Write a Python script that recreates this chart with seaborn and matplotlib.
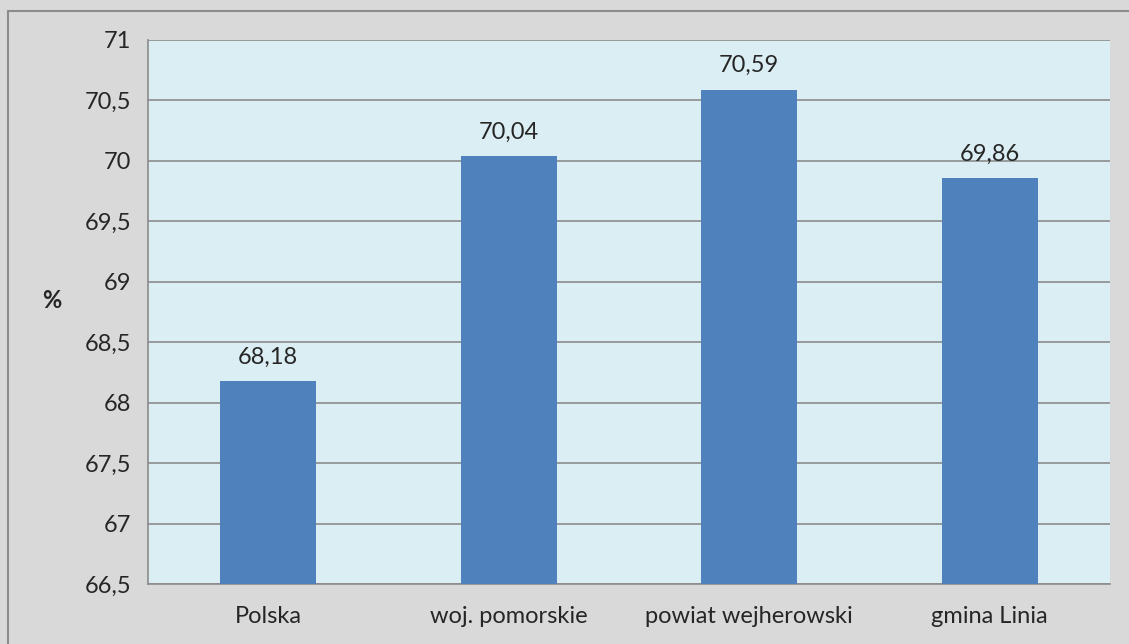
import numpy as np
import pandas as pd
import seaborn as sns
import matplotlib.pyplot as plt
from matplotlib.lines import Line2D

categories = ["Polska", "woj. pomorskie", "powiat wejherowski", "gmina Linia"]
values = [68.18, 70.04, 70.59, 69.86]
y_ticks = [66.5, 67, 67.5, 68, 68.5, 69, 69.5, 70, 70.5, 71]

sns.set_style("white")
plt.rcParams['font.family'] = ['Lato', 'DejaVu Sans']

df = pd.DataFrame({"kategoria": categories, "wartosc": values})

fig = plt.figure(figsize=(11.29, 6.44), dpi=100)
fig.patch.set_facecolor("#D9D9D9")
# outer chart border (only top and left visible in the reference)
x0, y0 = 7.5 / 1129, 1 - 10.5 / 644
fig.lines.append(Line2D([x0, 1.0], [y0, y0], transform=fig.transFigure,
                        color="#8C8C8C", linewidth=1.5))
fig.lines.append(Line2D([x0, x0], [0.0, y0], transform=fig.transFigure,
                        color="#8C8C8C", linewidth=1.5))

ax = fig.add_axes([148 / 1129, 60 / 644, 962 / 1129, 544 / 644])
ax.set_facecolor("#DBEEF3")
sns.barplot(data=df, x="kategoria", y="wartosc", color="#4F81BD",
            saturation=1, width=0.4, linewidth=0, ax=ax, zorder=3)

ax.set_ylim(66.5, 71)
ax.set_xlim(-0.5, 3.5)
ax.set_yticks(y_ticks)
ax.set_yticklabels([str(t).replace(".", ",").replace(",0", "") for t in y_ticks], fontsize=17)
ax.yaxis.grid(True, color="#8C8C8C", linewidth=1.2, zorder=0)
ax.set_axisbelow(True)

# category ticks at boundaries, labels centred
ax.set_xticks(np.arange(-0.5, 4, 1))
ax.set_xticklabels([])
ax.set_xticks(range(4), minor=True)
ax.set_xticklabels(categories, minor=True, fontsize=17)
ax.tick_params(axis="x", which="major", direction="out", length=6, color="#8C8C8C", width=1.2)
ax.tick_params(axis="x", which="minor", length=0, pad=16)
ax.tick_params(axis="y", direction="out", length=6, color="#8C8C8C", width=1.2, pad=6)

for side in ["top", "right"]:
    ax.spines[side].set_visible(False)
for side in ["left", "bottom"]:
    ax.spines[side].set_color("#8C8C8C")
    ax.spines[side].set_linewidth(1.2)

for i, v in enumerate(values):
    ax.text(i, v + 0.11, f"{v:.2f}".replace(".", ","), ha="center", va="bottom", fontsize=17)

ax.set_xlabel("")
ax.set_ylabel("%", fontsize=17, fontweight="bold", rotation=0, labelpad=24)

plt.savefig("out.png", dpi=100, facecolor=fig.get_facecolor())
